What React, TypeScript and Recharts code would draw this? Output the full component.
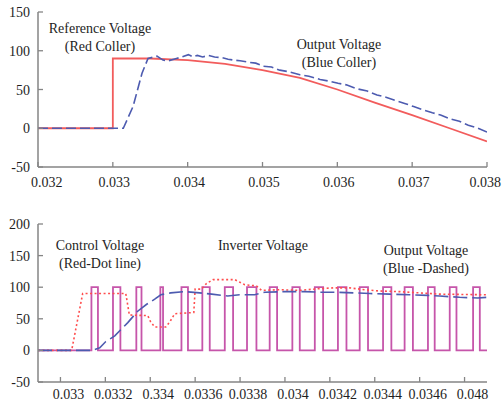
import React from 'react';
import { LineChart, Line, XAxis, YAxis } from 'recharts';

// ---------- Top chart data ----------
const topXTicks = [0.032, 0.033, 0.034, 0.035, 0.036, 0.037, 0.038];
const topXLabels = ['0.032', '0.033', '0.034', '0.035', '0.036', '0.037', '0.038'];
const topYTicks = [-50, 0, 50, 100, 150];

const refT = [0.032, 0.033, 0.033, 0.0335, 0.034, 0.0345, 0.035, 0.0355, 0.036, 0.0365, 0.037, 0.0375, 0.038];
const refV = [0, 0, 90, 90, 88, 83, 75, 65, 50, 33, 17, 0, -17];

const outTopT = [
  0.032, 0.03314, 0.03327, 0.03339, 0.03347, 0.03359, 0.03367, 0.03374, 0.03385, 0.03392,
  0.03401, 0.03407, 0.03413, 0.0342, 0.03428, 0.03436, 0.03446, 0.03454, 0.03461, 0.0347,
  0.03483, 0.03491, 0.03501, 0.03512, 0.03523, 0.03535, 0.0355, 0.03562, 0.03577, 0.03588,
  0.03601, 0.03612, 0.03626, 0.0364, 0.03653, 0.03665, 0.03677, 0.0369, 0.03702, 0.03714,
  0.03727, 0.03738, 0.03751, 0.03763, 0.03775, 0.03788, 0.038,
];
const outTopV = [
  0, 0, 28, 71, 90, 93, 88, 87, 90, 92,
  95, 92, 94, 92, 94, 92, 91, 89, 88, 87,
  85, 84, 80, 79, 75, 73, 69, 67, 63, 61,
  58, 56, 51, 48, 43, 40, 36, 32, 28, 24,
  20, 17, 12, 9, 4, 0, -5,
];

// ---------- Bottom chart data ----------
const botXTicks = [0.033, 0.0332, 0.0334, 0.0336, 0.0338, 0.034, 0.0342, 0.0344, 0.0346, 0.0348];
const botXLabels = ['0.033', '0.0332', '0.334', '0.0336', '0.0338', '0.034', '0.0342', '0.0344', '0.0346', '0.048'];
const botYTicks = [-50, 0, 50, 100, 150, 200];

const pulseStart = [
  0.033138, 0.033234, 0.033338, 0.033445, 0.033539, 0.033632, 0.033732, 0.033831, 0.033932,
  0.034033, 0.034133, 0.034236, 0.034333, 0.034437, 0.034533, 0.034637, 0.034734, 0.034838,
];
const pulseEnd = [
  0.033167, 0.033267, 0.033361, 0.033457, 0.033568, 0.033665, 0.033769, 0.033873, 0.033965,
  0.034066, 0.03417, 0.034274, 0.03437, 0.034474, 0.03457, 0.034667, 0.034764, 0.034868,
];
const pulseLow = 0;
const pulseHigh = 100;

const ctrlT = [
  0.0329, 0.03305, 0.033099, 0.033291, 0.033307, 0.033389, 0.033402, 0.03342, 0.033469, 0.033487,
  0.033509, 0.033594, 0.0336, 0.033628, 0.033651, 0.03368, 0.033776, 0.033821, 0.033873, 0.033896,
  0.033977, 0.034066, 0.034164, 0.034222, 0.034288, 0.034355, 0.034422, 0.034511, 0.0346, 0.034689, 0.0349,
];
const ctrlV = [
  0, 0, 90, 90, 56, 55, 45, 37, 37, 45,
  58, 60, 97, 97, 106, 112, 112, 104, 102, 95,
  96, 95, 98, 99, 99, 96, 94, 93, 91, 89, 88,
];

const outBotT = [
  0.0329, 0.033139, 0.033175, 0.033202, 0.033242, 0.0333, 0.033344, 0.033384, 0.03342, 0.033447,
  0.033491, 0.033553, 0.03362, 0.033674, 0.033745, 0.033798, 0.033865, 0.03391, 0.033999, 0.034088,
  0.034155, 0.034222, 0.034311, 0.034378, 0.034467, 0.034556, 0.034636, 0.034689, 0.034778, 0.034859, 0.0349,
];
const outBotV = [
  0, 0, 4, 14, 23, 44, 62, 73, 81, 88,
  91, 93, 91, 89, 86, 88, 88, 92, 93, 93,
  92, 92, 91, 90, 89, 88, 87, 86, 84, 83, 84,
];

const zip = (ts: number[], vs: number[]) => ts.map((t, i) => ({ t, v: vs[i] }));

const refData = zip(refT, refV);
const outTopData = zip(outTopT, outTopV);
const ctrlData = zip(ctrlT, ctrlV);
const outBotData = zip(outBotT, outBotV);

const inverterData: { t: number; v: number }[] = [{ t: 0.0329, v: pulseLow }];
pulseStart.forEach((s, i) => {
  inverterData.push({ t: s, v: pulseLow });
  inverterData.push({ t: s, v: pulseHigh });
  inverterData.push({ t: pulseEnd[i], v: pulseHigh });
  inverterData.push({ t: pulseEnd[i], v: pulseLow });
});
inverterData.push({ t: 0.0349, v: pulseLow });

// ---------- Styling ----------
const FONT = '"Liberation Serif", "Times New Roman", Times, serif';
const FRAME = '#858585';
const TXT = '#1e1e1e';
const TICK_LEN = 5;
const textStyle = { fontFamily: FONT, fontSize: 14 };

const makeXTick = (values: number[], labels: string[], dy: number, dx: number, edges: boolean) =>
  (props: any) => {
    const { x, y, payload } = props;
    const i = values.findIndex((v) => Math.abs(v - payload.value) < 1e-9);
    const label = i >= 0 ? labels[i] : String(payload.value);
    const isFirst = edges && i === 0;
    const isLast = edges && i === values.length - 1;
    let tx = x + dx;
    let anchor: 'start' | 'middle' | 'end' = 'middle';
    if (isFirst) {
      tx = x - 7;
      anchor = 'start';
    } else if (isLast) {
      tx = x + 14;
      anchor = 'end';
    }
    return (
      <g>
        <line x1={x} y1={y} x2={x} y2={y - TICK_LEN} stroke={FRAME} strokeWidth={1.3} />
        <text x={tx} y={y + dy} textAnchor={anchor} style={textStyle} fill={TXT}>
          {label}
        </text>
      </g>
    );
  };

const TopMark = (props: any) => {
  const { x, y } = props;
  return <line x1={x} y1={y} x2={x} y2={y + TICK_LEN} stroke={FRAME} strokeWidth={1.3} />;
};

const LeftTick = (props: any) => {
  const { x, y, payload } = props;
  return (
    <g>
      <line x1={x} y1={y} x2={x + TICK_LEN} y2={y} stroke={FRAME} strokeWidth={1.3} />
      <text x={x - 8} y={y + 5} textAnchor="end" style={textStyle} fill={TXT}>
        {payload.value}
      </text>
    </g>
  );
};

const RightMark = (props: any) => {
  const { x, y } = props;
  return <line x1={x} y1={y} x2={x - TICK_LEN} y2={y} stroke={FRAME} strokeWidth={1.3} />;
};

const axisLine = { stroke: FRAME, strokeWidth: 1.5 };

const TopXTick = makeXTick(topXTicks, topXLabels, 19.5, 1.5, true);
const BotXTick = makeXTick(botXTicks, botXLabels, 16.5, 8, false);

const Annot = ({ x, y, children }: { x: number; y: number; children: React.ReactNode }) => (
  <text x={x} y={y} textAnchor="middle" style={textStyle} fill={TXT}>
    {children}
  </text>
);

export default function App() {
  return (
    <div style={{ position: 'absolute', left: 0, top: 0, width: 503, height: 402, background: '#fff' }}>
      <div style={{ position: 'absolute', left: 0, top: 0 }}>
        <LineChart width={503} height={200} margin={{ top: 12, right: 16, bottom: 0, left: 0 }}>
          <XAxis
            type="number"
            dataKey="t"
            domain={[0.032, 0.038]}
            ticks={topXTicks}
            interval={0}
            height={33}
            tickSize={0}
            tickMargin={0}
            tickLine={false}
            axisLine={axisLine}
            tick={TopXTick}
            allowDataOverflow
          />
          <XAxis
            xAxisId="top"
            orientation="top"
            type="number"
            dataKey="t"
            domain={[0.032, 0.038]}
            ticks={topXTicks}
            interval={0}
            height={0}
            tickSize={0}
            tickMargin={0}
            tickLine={false}
            axisLine={axisLine}
            tick={TopMark}
            allowDataOverflow
          />
          <YAxis
            type="number"
            domain={[-50, 150]}
            ticks={topYTicks}
            interval={0}
            width={38}
            tickSize={0}
            tickMargin={0}
            tickLine={false}
            axisLine={axisLine}
            tick={LeftTick}
            allowDataOverflow
          />
          <YAxis
            yAxisId="right"
            orientation="right"
            type="number"
            domain={[-50, 150]}
            ticks={topYTicks}
            interval={0}
            width={0}
            tickSize={0}
            tickMargin={0}
            tickLine={false}
            axisLine={axisLine}
            tick={RightMark}
            allowDataOverflow
          />
          <Line
            data={refData}
            dataKey="v"
            type="linear"
            stroke="#f25c5c"
            strokeWidth={1.8}
            dot={false}
            activeDot={false}
            isAnimationActive={false}
          />
          <Line
            data={outTopData}
            dataKey="v"
            type="linear"
            stroke="#4d5bb0"
            strokeWidth={1.6}
            strokeDasharray="10 4"
            dot={false}
            activeDot={false}
            isAnimationActive={false}
          />
        </LineChart>
      </div>
      <div style={{ position: 'absolute', left: 0, top: 200 }}>
        <LineChart width={503} height={202} margin={{ top: 24, right: 16, bottom: 0, left: 0 }}>
          <XAxis
            type="number"
            dataKey="t"
            domain={[0.0329, 0.0349]}
            ticks={botXTicks}
            interval={0}
            height={20}
            tickSize={0}
            tickMargin={0}
            tickLine={false}
            axisLine={axisLine}
            tick={BotXTick}
            allowDataOverflow
          />
          <XAxis
            xAxisId="top"
            orientation="top"
            type="number"
            dataKey="t"
            domain={[0.0329, 0.0349]}
            ticks={[]}
            height={0}
            tickSize={0}
            tickLine={false}
            axisLine={axisLine}
            tick={false}
            allowDataOverflow
          />
          <YAxis
            type="number"
            domain={[-50, 200]}
            ticks={botYTicks}
            interval={0}
            width={38}
            tickSize={0}
            tickMargin={0}
            tickLine={false}
            axisLine={axisLine}
            tick={LeftTick}
            allowDataOverflow
          />
          <YAxis
            yAxisId="right"
            orientation="right"
            type="number"
            domain={[-50, 200]}
            ticks={botYTicks}
            interval={0}
            width={0}
            tickSize={0}
            tickMargin={0}
            tickLine={false}
            axisLine={axisLine}
            tick={RightMark}
            allowDataOverflow
          />
          <Line
            data={inverterData}
            dataKey="v"
            type="linear"
            stroke="#c655aa"
            strokeWidth={1.8}
            dot={false}
            activeDot={false}
            isAnimationActive={false}
          />
          <Line
            data={ctrlData}
            dataKey="v"
            type="linear"
            stroke="#ff4d4d"
            strokeWidth={1.6}
            strokeDasharray="2 2.5"
            dot={false}
            activeDot={false}
            isAnimationActive={false}
          />
          <Line
            data={outBotData}
            dataKey="v"
            type="linear"
            stroke="#4d5bb0"
            strokeWidth={1.6}
            strokeDasharray="14 5"
            dot={false}
            activeDot={false}
            isAnimationActive={false}
          />
        </LineChart>
      </div>
      <svg
        width={503}
        height={402}
        style={{ position: 'absolute', left: 0, top: 0, pointerEvents: 'none' }}
      >
        <Annot x={100} y={33}>Reference Voltage</Annot>
        <Annot x={100} y={51}>(Red Coller)</Annot>
        <Annot x={339} y={49}>Output Voltage</Annot>
        <Annot x={339} y={67}>(Blue Coller)</Annot>
        <Annot x={100} y={250}>Control Voltage</Annot>
        <Annot x={100} y={268}>(Red-Dot line)</Annot>
        <Annot x={263} y={250}>Inverter Voltage</Annot>
        <Annot x={426} y={255}>Output Voltage</Annot>
        <Annot x={426} y={273}>(Blue -Dashed)</Annot>
      </svg>
    </div>
  );
}
